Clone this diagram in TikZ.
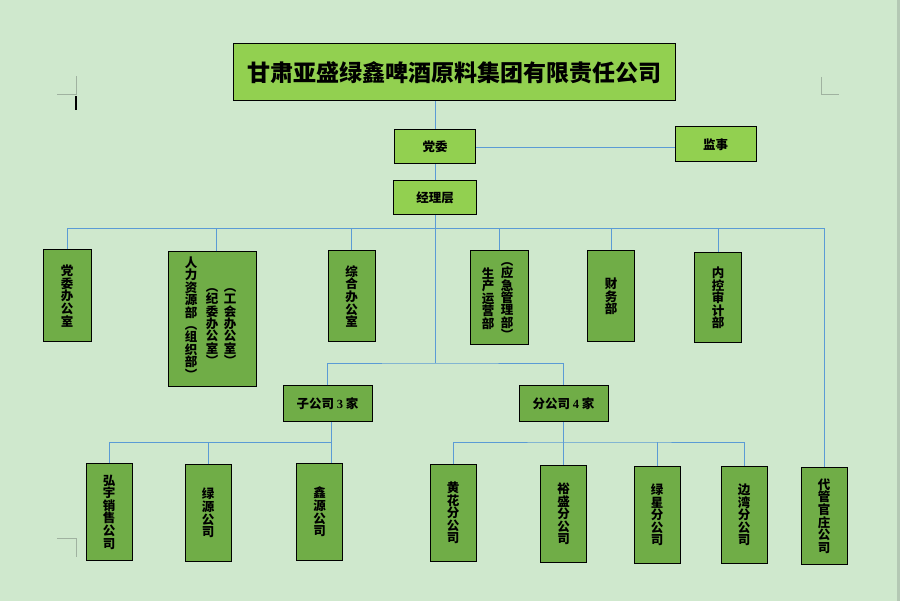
\documentclass[tikz,border=0pt]{standalone}
\usepackage{fontspec}
\setmainfont{Liberation Serif}
\newfontfamily\cjk{Noto Sans CJK SC}
\definecolor{bg}{RGB}{207,232,205}
\definecolor{lg}{RGB}{146,208,80}
\definecolor{dg}{RGB}{112,173,71}
\definecolor{ln}{RGB}{91,155,213}
\definecolor{crop}{RGB}{160,178,160}
\definecolor{edge}{RGB}{180,200,180}
\begin{document}
\begin{tikzpicture}[x=1pt,y=-1pt,
  box/.style={draw=black,line width=1pt,inner sep=0pt,align=center},
  lbox/.style={box,fill=lg,font=\cjk\bfseries\fontsize{12.5}{14}\selectfont},
  dbox/.style={box,fill=dg,minimum width=46pt,minimum height=96pt,font=\cjk\bfseries\fontsize{12.5}{12.6}\selectfont},
  hbox/.style={box,fill=dg,minimum width=89pt,minimum height=36pt,font=\cjk\bfseries\fontsize{12.5}{14}\selectfont},
  vt/.style={inner sep=0pt,align=center,font=\cjk\bfseries\fontsize{12.5}{12.4}\selectfont},
  conn/.style={draw=ln,line width=0.8pt},
  cropline/.style={draw=crop,line width=0.8pt},
]
\fill[bg] (0,0) rectangle (900,601);
\useasboundingbox (0,0) rectangle (900,601);
\fill[edge] (897,0) rectangle (900,601);
% crop marks and cursor
\draw[cropline] (57,94) -- (76,94) -- (76,76);
\draw[cropline] (821,77) -- (821,94) -- (839,94);
\draw[cropline] (57,538) -- (76,538) -- (76,557);
\draw[black,line width=1.5pt] (76,96) -- (76,110);

% top level
\node[lbox,minimum width=442pt,minimum height=57pt,font=\cjk\bfseries\fontsize{23}{26}\selectfont] (title) at (454,72.5) {甘肃亚盛绿鑫啤酒原料集团有限责任公司};
\node[lbox,minimum width=81pt,minimum height=34pt] (dw) at (435,147) {党委};
\node[lbox,minimum width=81pt,minimum height=35pt] (js) at (715.5,144.5) {监事};
\node[lbox,minimum width=83pt,minimum height=34pt] (jl) at (435,198) {经理层};

% second level
\node[dbox,minimum width=48pt,minimum height=92pt] (b1) at (67,296) {党\\委\\办\\公\\室};
\node[dbox,minimum width=88pt,minimum height=135pt] (hr) at (212,319.5) {};
\node[vt] (hr1) at (191,318) {人\\力\\资\\源\\部\\︵\\组\\织\\部\\︶};
\node[vt] (hr2) at (212,327) {︵\\纪\\委\\办\\公\\室\\︶};
\node[vt] (hr3) at (230,327) {︵\\工\\会\\办\\公\\室\\︶};
\node[dbox,minimum width=47pt,minimum height=91pt] (b3) at (351.5,296.5) {综\\合\\办\\公\\室};
\node[dbox,minimum width=58pt,minimum height=94pt] (b4) at (499,298) {};
\node[vt] (p1) at (488,298.5) {生\\产\\运\\营\\部};
\node[vt] (p2) at (507,301) {︵\\应\\急\\管\\理\\部\\︶};
\node[dbox,minimum width=47pt,minimum height=91pt] (b5) at (611,296.5) {财\\务\\部};
\node[dbox,minimum width=47pt,minimum height=90pt] (b6) at (718,298) {内\\控\\审\\计\\部};

% groups
\node[hbox] (zgs) at (327.5,404) {子公司 {\rmfamily\bfseries 3} 家};
\node[hbox] (fgs) at (563.5,404) {分公司 {\rmfamily\bfseries 4} 家};

% third level
\node[dbox] (c1) at (109,512) {弘\\宇\\销\\售\\公\\司};
\node[dbox] (c2) at (208,513) {绿\\源\\公\\司};
\node[dbox] (c3) at (319.5,512) {鑫\\源\\公\\司};
\node[dbox] (d1) at (453,513) {黄\\花\\分\\公\\司};
\node[dbox] (d2) at (563.5,514) {裕\\盛\\分\\公\\司};
\node[dbox] (d3) at (657,515) {绿\\星\\分\\公\\司};
\node[dbox] (d4) at (744,515) {边\\湾\\分\\公\\司};
\node[dbox] (d5) at (824,516) {代\\管\\官\\庄\\公\\司};

% connectors
\coordinate (busL) at (67,228);
\coordinate (busR) at (824,228);
\coordinate (mid) at (435,363);
\coordinate (sbus) at (331,442);
\coordinate (fbus) at (600,442);

\draw[conn] (title.south -| dw.north) -- (dw.north);
\draw[conn] (dw.south) -- (jl.north);
\draw[conn] (dw.east) -- (dw.east -| js.west);
\draw[conn] (jl.south) -- (mid);
\draw[conn] (b1.north) |- (busR) -- (d5.north);
\draw[conn] ([xshift=4pt]hr.north) -- ([xshift=4pt]hr.north |- busL);
\draw[conn] (b3.north) -- (b3.north |- busL);
\draw[conn] (b4.north) -- (b4.north |- busL);
\draw[conn] (b5.north) -- (b5.north |- busL);
\draw[conn] (b6.north) -- (b6.north |- busL);
\draw[conn] (zgs.north) |- (mid) -| (fgs.north);
\draw[conn] ([xshift=3.5pt]zgs.south) -- ([xshift=11.5pt]c3.north);
\draw[conn] (c1.north) |- (sbus);
\draw[conn] (c2.north) -- (c2.north |- sbus);
\draw[conn] (fgs.south) -- (d2.north);
\draw[conn] (d1.north) |- (fbus) -| (d4.north);
\draw[conn] (d3.north) -- (d3.north |- fbus);
\end{tikzpicture}
\end{document}
